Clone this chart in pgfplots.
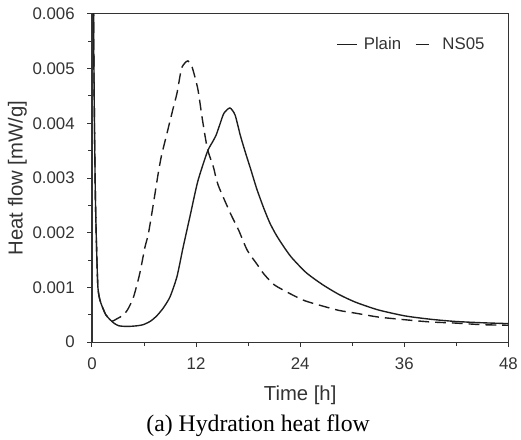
\documentclass[border=0pt]{standalone}
\usepackage{fontspec}
\setmainfont{Liberation Sans}
\newfontfamily\capfont{Liberation Serif}
\usepackage{pgfplots}
\pgfplotsset{compat=1.18}
\definecolor{ink}{HTML}{1E1E1E}
\definecolor{axc}{HTML}{333333}
\pgfplotsset{
  legA/.style={legend image code/.code={\draw[##1,solid] (0pt,0pt) -- (20pt,0pt); \path[draw=none] (0pt,0pt) -- (25pt,0pt);}},
  legB/.style={legend image code/.code={\draw[##1,solid] (0pt,0pt) -- (13pt,0pt); \path[draw=none] (0pt,0pt) -- (25pt,0pt);}},
}
\begin{document}
\begin{tikzpicture}
\begin{axis}[
  width=421pt, height=332pt, scale only axis,
  xmin=0, xmax=48, ymin=0, ymax=0.006,
  xtick={0,12,24,36,48}, minor xtick={6,18,30,42},
  ytick={0,0.001,0.002,0.003,0.004,0.005,0.006},
  yticklabels={0,0.001,0.002,0.003,0.004,0.005,0.006},
  minor ytick={0.0005,0.0015,0.0025,0.0035,0.0045,0.0055},
  scaled y ticks=false,
  xtick pos=left, ytick pos=left,
  tick align=outside,
  major tick length=5pt, minor tick length=4pt,
  every tick/.style={axc, line width=1pt},
  axis line style={axc, line width=1.3pt},
  /pgf/number format/assume math mode=true,
  tick label style={font=\fontsize{17}{17}\selectfont, text=axc},
  yticklabel style={xshift=-9pt},
  xticklabel style={yshift=-7pt},
  xlabel={Time [h]}, ylabel={Heat flow [mW/g]},
  label style={font=\fontsize{20.5}{20.5}\selectfont, text=axc},
  xlabel style={yshift=-10pt},
  ylabel style={yshift=-1pt},
  legend style={at={(axis description cs:0.955,0.94)}, anchor=north east, draw=none, fill=none,
    font=\fontsize{17}{17}\selectfont, text=axc,
    /tikz/every even column/.append style={column sep=12pt}},
  legend columns=2,
  legend cell align=left,
]
\addplot[ink, line width=1.4pt, smooth, tension=0.4, legA] coordinates {
(0.12,0.0080)(0.2,0.0055)(0.3,0.0038)(0.4,0.0026)(0.53,0.00173)(0.68,0.00101)
(0.9,0.00078)(1.18,0.00065)(1.6,0.00050)(2.1,0.00041)(2.6,0.00034)(3.1,0.00030)
(3.7,0.00029)(4.4,0.00029)(5.2,0.00030)(5.9,0.00032)(6.7,0.00038)(7.4,0.00047)
(8.2,0.00062)(9.0,0.00083)(9.8,0.00120)(10.5,0.00173)(11.3,0.00230)(12.2,0.00294)
(13.3,0.00348)(13.9,0.00366)(14.3,0.00378)(14.7,0.00396)(15.2,0.00418)(15.9,0.00428)
(16.5,0.00415)(17.1,0.00378)(17.7,0.00346)(18.3,0.00316)(19.0,0.00280)(19.8,0.00245)
(20.5,0.00218)(21.2,0.00197)(22.0,0.00177)(23.0,0.00155)(24.7,0.00127)(26.6,0.00105)
(28.5,0.00087)(30.4,0.00073)(33,0.00059)(36.1,0.00048)(39,0.00042)(41.8,0.00038)
(45,0.000355)(48,0.00034)
};
\addlegendentry{Plain}
\addplot[ink, line width=1.4pt, smooth, tension=0.4, dash pattern=on 11pt off 6pt, legB] coordinates {
(0.12,0.0080)(0.2,0.0055)(0.3,0.0038)(0.4,0.0026)(0.53,0.00173)(0.68,0.00101)
(0.9,0.00078)(1.18,0.00065)(1.6,0.00050)(2.1,0.00041)(2.3,0.00038)(2.9,0.00043)
(3.65,0.00050)(4.2,0.00062)(4.8,0.00083)(5.5,0.00125)(6.1,0.00173)(6.5,0.00198)
(7.0,0.00245)(7.6,0.00305)(8.0,0.00340)(8.59,0.00378)(9.35,0.00427)(9.8,0.00455)
(10.3,0.00499)(10.7,0.00510)(11.06,0.00514)(11.5,0.00505)(12.2,0.00463)(12.7,0.00410)
(13.3,0.00354)(14.0,0.00320)(14.3,0.00300)(14.67,0.00282)(16.0,0.00234)(16.9,0.00205)
(17.9,0.00168)(19.0,0.00143)(19.8,0.00125)(21,0.00105)(22.8,0.00089)(24.5,0.00076)
(26.6,0.00066)(28.5,0.00058)(30.4,0.00053)(33,0.00046)(36.1,0.00041)(39,0.00037)
(41.8,0.00035)(45,0.00032)(48,0.00031)
};
\addlegendentry{NS05}
\coordinate (cap) at (rel axis cs:0.399,-0.253);
\end{axis}
\node[font=\capfont\fontsize{24}{24}\selectfont, anchor=center] at (cap) {(a) Hydration heat flow};
\path (current axis.south west) ++(-93pt,-97pt) coordinate (bbl);
\path (current axis.north west) ++(0,14pt) coordinate (bbt);
\path (bbl) -- (bbt);
\end{tikzpicture}
\end{document}
